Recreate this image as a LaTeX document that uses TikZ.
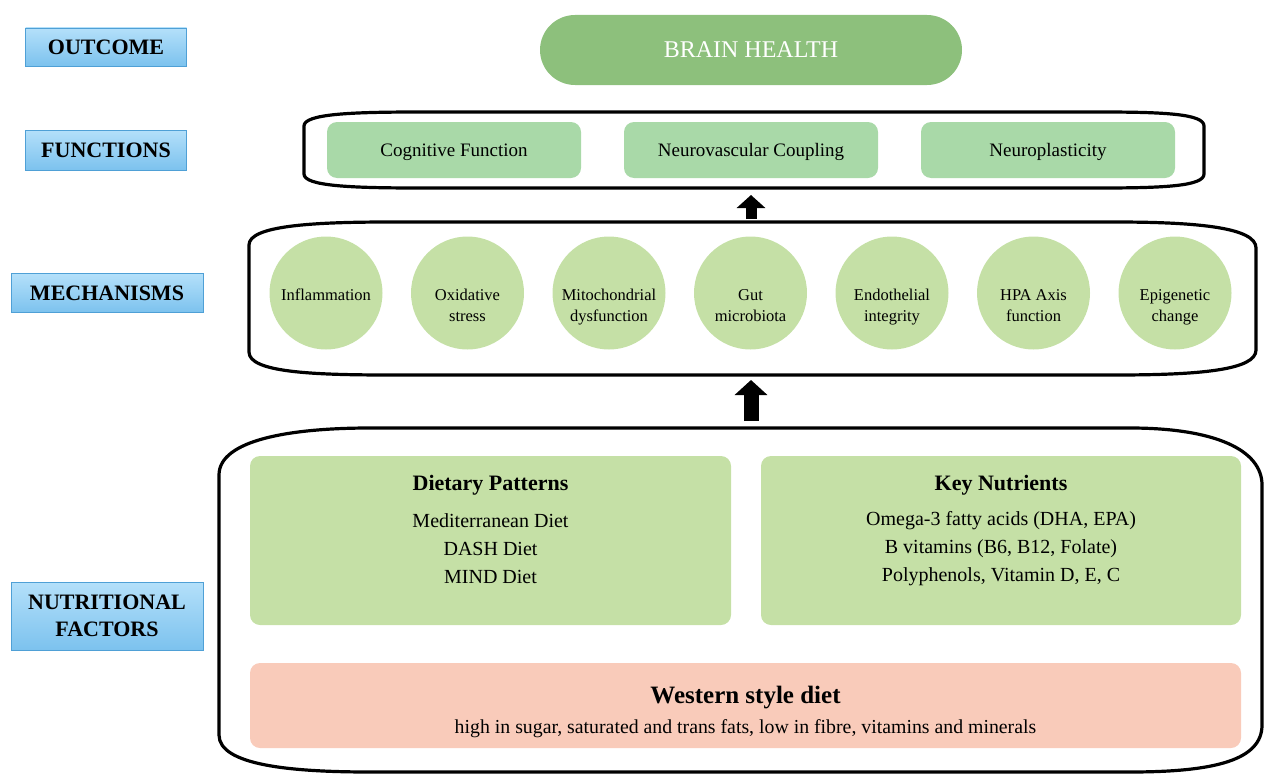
\documentclass[tikz,border=0pt]{standalone}
\usepackage{fontspec}
\setmainfont{Liberation Serif}
\usepackage{xcolor}
\usetikzlibrary{positioning, arrows.meta, calc}

\definecolor{lvltop}{HTML}{B4E0FA}
\definecolor{lvlbot}{HTML}{7CC2EE}
\definecolor{lvledge}{HTML}{4FA0D6}
\definecolor{brain}{HTML}{8DC07C}
\definecolor{funcgreen}{HTML}{A9D9A8}
\definecolor{mechgreen}{HTML}{C5E0A6}
\definecolor{western}{HTML}{F9CBBA}

\tikzset{
    levelbox/.style={draw=lvledge, line width=0.8pt, top color=lvltop, bottom color=lvlbot,
        align=center, inner sep=0pt, font=\bfseries\fontsize{22}{27}\selectfont},
    funcbox/.style={fill=funcgreen, rounded corners=10pt, minimum width=254pt,
        minimum height=56pt, inner sep=0pt},
    functext/.style={anchor=base, font=\fontsize{19}{22}\selectfont},
    mechcircle/.style={circle, fill=mechgreen, minimum size=113pt, inner sep=0pt},
    mechtext/.style={anchor=base, align=center, font=\fontsize{16.5}{21}\selectfont},
    groupbox/.style={fill=mechgreen, rounded corners=10pt, inner sep=0pt},
    grouptitle/.style={font=\bfseries\fontsize{22}{26}\selectfont},
    groupitems/.style={align=center, font=\fontsize{20}{28}\selectfont},
    container/.style={line width=3.2pt, line join=round}
}

\begin{document}
\begin{tikzpicture}[x=1pt, y=-1pt]

    \useasboundingbox (0,0) rectangle (1266,776);

    % Level labels on the left
    \node[levelbox, minimum width=161pt, minimum height=38pt] (outcome) at (106,47) {OUTCOME};
    \node[levelbox, minimum width=161pt, minimum height=40pt] (functions) at (106,150) {FUNCTIONS};
    \node[levelbox, minimum width=192pt, minimum height=39pt] (mechanisms) at (107,293) {MECHANISMS};
    \node[levelbox, minimum width=192pt, minimum height=68pt] (nutrition) at (107,616) {NUTRITIONAL\\FACTORS};

    % Outcome
    \node[fill=brain, rounded corners=35pt, minimum width=422pt, minimum height=70pt,
          text=white, font=\fontsize{24}{28}\selectfont] (brain) at (751,50) {BRAIN HEALTH};

    % Functions container
    \draw[container] (304,126) .. controls (304,114) and (350,112) .. (420,112)
        -- (1100,112) .. controls (1165,112) and (1204,114) .. (1204,126)
        -- (1204,174) .. controls (1204,186) and (1165,188) .. (1100,188)
        -- (420,188) .. controls (350,188) and (304,186) .. (304,174) -- cycle;
    \coordinate (funcbot) at (751,188);

    \foreach \name/\x/\txt in {cognitive/454/Cognitive Function,
                               neurovasc/751/Neurovascular Coupling,
                               neuroplast/1048/Neuroplasticity} {
        \node[funcbox] (\name) at (\x,150) {};
        \node[functext] (\name text) at (\x,156.5) {\txt};
    }

    % Mechanisms container
    \draw[container] (249,245) .. controls (249,226) and (310,222) .. (390,222)
        -- (1115,222) .. controls (1200,222) and (1256,228) .. (1256,248)
        -- (1256,350) .. controls (1256,370) and (1200,375) .. (1115,375)
        -- (390,375) .. controls (310,375) and (249,372) .. (249,352) -- cycle;
    \coordinate (mechtop) at (751,222);
    \coordinate (mechbot) at (751,375);

    % last baseline: one line at 300.5, two lines at 321.5
    \foreach \i/\ty/\txt in {1/300.5/Inflammation, 2/321.5/{Oxidative\\stress},
                             3/321.5/{Mitochondrial\\dysfunction}, 4/321.5/{Gut\\microbiota},
                             5/321.5/{Endothelial\\integrity}, 6/321.5/{HPA Axis\\function},
                             7/321.5/{Epigenetic\\change}} {
        \node[mechcircle] (mech\i) at ({326+141.5*(\i-1)},293) {};
        \node[mechtext] (mech\i text) at ({326+141.5*(\i-1)},\ty) {\txt};
    }

    % Nutritional factors container
    \draw[container] (219,475) .. controls (219,440) and (290,428) .. (370,428)
        -- (1130,428) .. controls (1215,428) and (1262,450) .. (1262,485)
        -- (1262,725) .. controls (1262,760) and (1215,772) .. (1130,772)
        -- (370,772) .. controls (290,772) and (219,765) .. (219,735) -- cycle;
    \coordinate (nutritop) at (751,428);

    \node[groupbox, minimum width=481pt, minimum height=169pt] (patterns) at (490.5,540.5) {};
    \node[grouptitle] (patternstitle) at (490.5,485) {Dietary Patterns};
    \node[groupitems] (patternsitems) at (490.5,549) {Mediterranean Diet\\DASH Diet\\MIND Diet};

    \node[groupbox, minimum width=480pt, minimum height=169pt] (nutrients) at (1001,540.5) {};
    \node[grouptitle] (nutrientstitle) at (1001,485) {Key Nutrients};
    \node[groupitems] (nutrientsitems) at (1001,549)
        {Omega-3 fatty acids (DHA, EPA)\\B vitamins (B6, B12, Folate)\\Polyphenols, Vitamin D, E, C};

    \node[groupbox, fill=western, minimum width=991pt, minimum height=85pt] (westbox) at (745.5,705.5) {};
    \node[font=\bfseries\fontsize{25}{28}\selectfont] (westtitle) at (745.5,698) {Western style diet};
    \node[font=\fontsize{19.8}{22}\selectfont] (westtext) at (745.5,729)
        {high in sugar, saturated and trans fats, low in fibre, vitamins and minerals};

    % Upward arrows between levels
    \draw[-{Triangle[length=13pt, width=28pt]}, line width=11pt, shorten <=3pt, shorten >=7pt]
        (mechtop) -- (funcbot);
    \draw[-{Triangle[length=15pt, width=32pt]}, line width=15pt, shorten <=7pt, shorten >=5pt]
        (nutritop) -- (mechbot);

\end{tikzpicture}
\end{document}
